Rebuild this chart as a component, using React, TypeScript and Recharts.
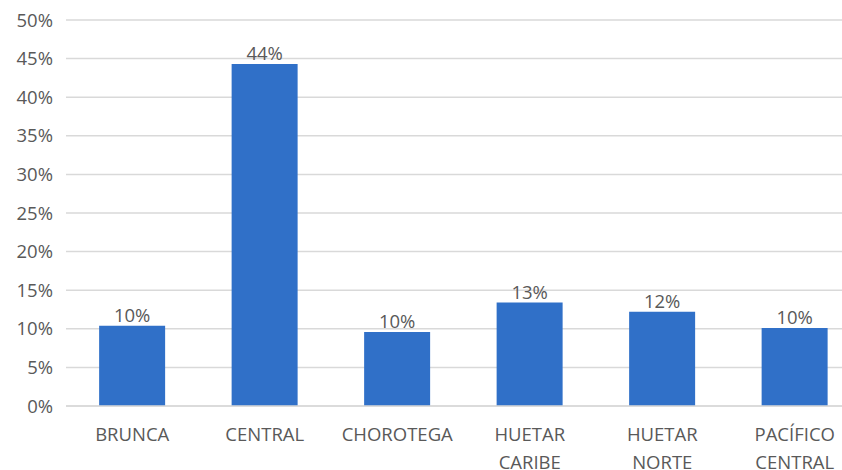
import { BarChart, Bar, XAxis, YAxis, CartesianGrid, LabelList } from "recharts";

// regiones y porcentaje de cada una
const regions = ["BRUNCA", "CENTRAL", "CHOROTEGA", "HUETAR CARIBE", "HUETAR NORTE", "PACÍFICO CENTRAL"];
const shares = [10.4, 44.3, 9.6, 13.4, 12.2, 10.1];
const yTicks = [0, 5, 10, 15, 20, 25, 30, 35, 40, 45, 50];

const data = regions.map((region, i) => ({ region, share: shares[i] }));

const FONT = "'Open Sans', sans-serif";
const GREY = "#595959";
const SIZE = 18.5;

// category labels wrap onto two lines like the original
const RegionTick = (props: any) => {
  const { x, y, payload } = props;
  const words = String(payload.value).split(" ");
  return (
    <text x={x} y={y} textAnchor="middle" fill={GREY} fontSize={SIZE} fontFamily={FONT}>
      {words.map((w: string, i: number) => (
        <tspan key={i} x={x} dy={i === 0 ? 35 : 28}>
          {w}
        </tspan>
      ))}
    </text>
  );
};

export default function App() {
  return (
    <div
      style={{
        position: "absolute",
        left: 0,
        top: 0,
        width: 842,
        height: 470,
        overflow: "hidden",
        background: "#fff",
      }}
    >
      <BarChart
        width={861}
        height={470}
        data={data}
        margin={{ top: 20, right: 0, bottom: 0, left: 0 }}
        barCategoryGap="25%"
      >
        <CartesianGrid vertical={false} stroke="#d9d9d9" strokeWidth={1.5} />
        <XAxis
          dataKey="region"
          height={64}
          interval={0}
          tickLine={false}
          tickSize={0}
          tickMargin={0}
          axisLine={{ stroke: "#d9d9d9", strokeWidth: 1.5 }}
          tick={<RegionTick />}
        />
        <YAxis
          width={66}
          domain={[0, 50]}
          ticks={yTicks}
          tickFormatter={(v) => `${v}%`}
          axisLine={false}
          tickLine={false}
          tickSize={0}
          tickMargin={13}
          tick={{ fill: GREY, fontSize: SIZE, fontFamily: FONT }}
        />
        <Bar dataKey="share" fill="#3070c8" isAnimationActive={false}>
          <LabelList
            dataKey="share"
            position="top"
            offset={4}
            formatter={(v: any) => `${Math.round(v)}%`}
            style={{ fill: GREY, fontSize: SIZE, fontFamily: FONT }}
          />
        </Bar>
      </BarChart>
    </div>
  );
}
